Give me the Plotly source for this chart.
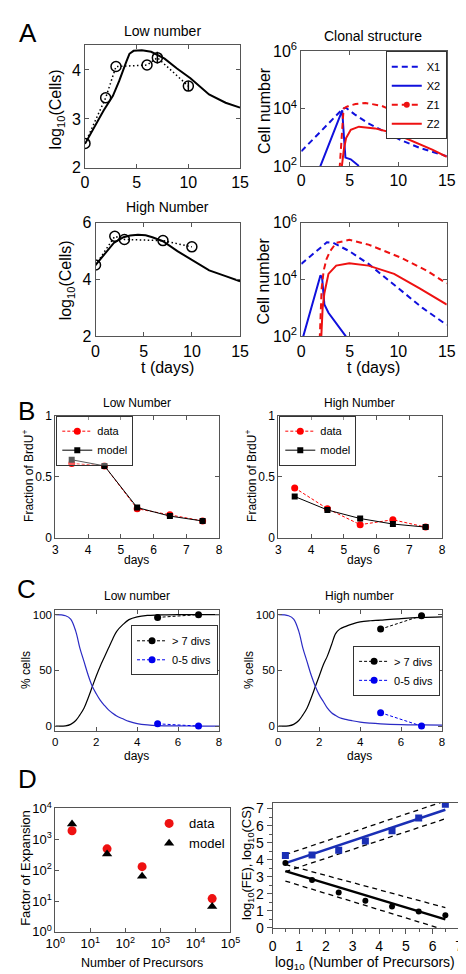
import plotly.graph_objects as go

W, H = 466, 974
FONT = "Liberation Sans, Arial, Helvetica, sans-serif"

# ================= DATA =================
# Panel A - population size (log10 cells)
a_low_days = [0, 2, 3, 6, 7, 10]
a_low_obs = [2.5, 3.43, 4.07, 4.1, 4.25, 3.67]
a_low_err = [0, 0, 0, 0, 0.12, 0.1]
a_low_fit_t = [0, 0.9, 1.8, 2.7, 3.3, 4.0, 4.3, 4.7, 5.5, 6.4, 7.7, 8.9, 10.2, 12.0, 13.6, 15]
a_low_fit = [2.49, 2.83, 3.17, 3.47, 3.77, 4.17, 4.33, 4.39, 4.4, 4.37, 4.23, 4.03, 3.83, 3.5, 3.33, 3.23]

a_high_days = [0, 2, 3, 7, 10]
a_high_obs = [4.51, 5.52, 5.41, 5.37, 5.15]
a_high_fit_t = [0, 0.9, 1.9, 2.9, 3.6, 4.4, 5.2, 5.9, 7.0, 8.5, 10.1, 11.8, 13.5, 15]
a_high_fit = [4.51, 4.88, 5.29, 5.49, 5.55, 5.58, 5.56, 5.49, 5.35, 5.0, 4.66, 4.32, 4.12, 3.94]

# Panel A - clonal structure (log10 cell number)
cl_low_x1_t = [0, 4.3, 4.6, 5.5, 6.9, 8.5, 10.2, 12.2, 15]
cl_low_x1 = [2.51, 4.0, 4.03, 3.8, 3.49, 3.2, 2.91, 2.63, 2.34]
cl_low_x2_t = [1.85, 4.22, 4.4, 4.55, 5.1, 5.94]
cl_low_x2 = [1.89, 3.94, 3.0, 2.29, 2.23, 2.0]
cl_low_z1_t = [3.95, 4.15, 4.36, 4.6, 4.95, 5.6, 6.6, 8.25, 10.2, 12.2, 15]
cl_low_z1 = [1.9, 3.0, 4.0, 4.05, 4.1, 4.16, 4.2, 4.1, 3.83, 3.49, 3.09]
cl_low_z2_t = [4.15, 4.4, 4.62, 5.1, 5.94, 7.6, 9.57, 11.2, 13.5, 15]
cl_low_z2 = [1.9, 2.6, 2.97, 3.26, 3.37, 3.31, 3.14, 2.91, 2.57, 2.32]

cl_high_x1_t = [0, 1.5, 2.64, 3.3, 4.95, 6.93, 10.2, 12.5, 15]
cl_high_x1 = [4.55, 4.98, 5.31, 5.29, 5.0, 4.55, 3.63, 3.0, 2.4]
cl_high_x2_t = [0.16, 1.0, 1.98, 2.15, 2.38, 2.8, 3.3, 4.1, 4.6]
cl_high_x2 = [1.95, 2.97, 4.15, 4.05, 3.12, 2.83, 2.6, 2.26, 2.0]
cl_high_z1_t = [1.9, 2.0, 2.1, 2.31, 2.6, 2.97, 3.6, 4.95, 6.93, 10.2, 12.9, 15]
cl_high_z1 = [1.9, 2.8, 3.7, 4.32, 4.72, 5.0, 5.29, 5.4, 5.23, 4.78, 4.32, 3.86]
cl_high_z2_t = [2.05, 2.1, 2.2, 2.38, 2.8, 3.6, 4.95, 6.93, 9.57, 12.2, 15]
cl_high_z2 = [1.9, 2.5, 3.0, 3.52, 4.2, 4.49, 4.57, 4.49, 4.2, 3.69, 3.12]

# Panel B - fraction BrdU+
b_days = [3.5, 4.5, 5.5, 6.5, 7.5]
b_low_data = [0.61, 0.59, 0.24, 0.19, 0.14]
b_low_model = [0.64, 0.59, 0.25, 0.18, 0.14]
b_high_data = [0.41, 0.24, 0.11, 0.15, 0.09]
b_high_model = [0.34, 0.23, 0.16, 0.115, 0.09]

# Panel C - % cells by division class
c_t = [0, 0.5, 0.75, 1.0, 1.2, 1.4, 1.6, 1.8, 2.0, 2.2, 2.4, 2.6, 2.8, 3.0, 3.3, 3.6, 4.0, 4.5, 5, 6, 7, 8]
c_low_gt7_model = [0, 0.2, 1.5, 5, 10, 16, 25, 35, 45, 54, 62, 70, 78, 85, 91, 95.5, 98, 99.3, 99.7, 100, 100, 100]
c_low_05_model = [100, 99, 96, 85, 70, 58, 46, 36, 29, 23, 18.5, 14.5, 11.5, 9, 6.5, 4.2, 2.2, 1, 0.4, 0.1, 0, 0]
c_high_gt7_model = [0, 0.2, 1.5, 5, 10, 16, 25, 35, 45, 55, 63, 73, 83, 87, 89.5, 91.5, 93.5, 94.5, 95, 96.5, 97.5, 98]
c_high_05_model = [100, 99, 96, 85, 70, 58, 46, 36, 28, 22, 16, 12, 9.5, 7.5, 6, 4.8, 3.5, 2.6, 2, 1.3, 1, 0.8]
c_days = [5, 7]
c_low_gt7 = [97.5, 100]
c_low_05 = [2, 0]
c_high_gt7 = [87, 99]
c_high_05 = [12, 0]

# Panel D - expansion vs precursors
d_prec = [3, 30, 300, 30000]
d_fe_data = [1900, 490, 130, 12]
d_fe_model = [3150, 335, 63, 6.6]

d_logprec = [0.48, 1.48, 2.48, 3.48, 4.48, 5.48, 6.48]
d_log_cs = [4.25, 4.28, 4.55, 5.1, 5.7, 6.44, 7.25]
d_log_fe = [3.8, 2.81, 2.08, 1.6, 1.26, 0.97, 0.75]
d_fit_x = [0.48, 6.48]
d_cs_fit = [3.8, 6.93]
d_cs_hi = [4.3, 7.45]
d_cs_lo = [3.3, 6.4]
d_fe_fit = [3.33, 0.5]
d_fe_hi = [3.72, 1.19]
d_fe_lo = [2.75, -0.12]

# ================= FIGURE =================
BLUE = "#1010dd"
RED = "#ee1111"
fig = go.Figure()


def add(tr, i):
    sfx = '' if i == 1 else str(i)
    tr.update(xaxis='x' + sfx, yaxis='y' + sfx)
    if tr.showlegend is None:
        tr.update(showlegend=False)
    fig.add_trace(tr)


def pw(v):
    return [10 ** a for a in v]

DOT = "1.5px,2.5px"
# A1 low number
add(go.Scatter(x=a_low_days, y=a_low_obs, mode='lines+markers',
               line=dict(color='black', width=1.5, dash=DOT),
               marker=dict(symbol='circle-open', size=10, color='black', line=dict(width=1.5)),
               error_y=dict(type='data', array=a_low_err, visible=True, color='black', thickness=1.5, width=0)), 1)
add(go.Scatter(x=a_low_fit_t, y=a_low_fit, mode='lines', line=dict(color='black', width=2)), 1)

# A3 high number
add(go.Scatter(x=a_high_days, y=a_high_obs, mode='lines+markers',
               line=dict(color='black', width=1.5, dash=DOT),
               marker=dict(symbol='circle-open', size=10, color='black', line=dict(width=1.5))), 3)
add(go.Scatter(x=a_high_fit_t, y=a_high_fit, mode='lines', line=dict(color='black', width=2)), 3)

# A2 / A4 clonal structure
DASH = "6px,4px"
for ax, (x1t, x1, x2t, x2, z1t, z1, z2t, z2) in [
        (2, (cl_low_x1_t, cl_low_x1, cl_low_x2_t, cl_low_x2, cl_low_z1_t, cl_low_z1, cl_low_z2_t, cl_low_z2)),
        (4, (cl_high_x1_t, cl_high_x1, cl_high_x2_t, cl_high_x2, cl_high_z1_t, cl_high_z1, cl_high_z2_t, cl_high_z2))]:
    first = ax == 2
    add(go.Scatter(x=x1t, y=pw(x1), mode='lines', name='X1', showlegend=first, legend='legend',
                   line=dict(color=BLUE, width=2, dash=DASH)), ax)
    add(go.Scatter(x=x2t, y=pw(x2), mode='lines', name='X2', showlegend=first, legend='legend',
                   line=dict(color=BLUE, width=2)), ax)
    add(go.Scatter(x=z1t, y=pw(z1), mode='lines', name='Z1',
                   line=dict(color=RED, width=2, dash=DASH)), ax)
    if first:
        add(go.Scatter(x=[None], y=[None], mode='lines+markers', name='Z1', showlegend=True, legend='legend',
                       line=dict(color=RED, width=2, dash=DASH), marker=dict(color=RED, size=6)), ax)
    add(go.Scatter(x=z2t, y=pw(z2), mode='lines', name='Z2', showlegend=first, legend='legend',
                   line=dict(color=RED, width=2)), ax)

# B
for ax, dat, mod, lg in [(5, b_low_data, b_low_model, 'legend2'), (6, b_high_data, b_high_model, 'legend3')]:
    add(go.Scatter(x=b_days, y=dat, mode='lines+markers', name='data', showlegend=True, legend=lg,
                   line=dict(color='#ff0000', width=1, dash='3px,2px'),
                   marker=dict(color='#ff0000', size=7)), ax)
    add(go.Scatter(x=b_days, y=mod, mode='lines+markers', name='model', showlegend=True, legend=lg,
                   line=dict(color='black', width=1),
                   marker=dict(color='black', size=6, symbol='square')), ax)

# C
for ax, gm, bm, gd, bd, lg in [(7, c_low_gt7_model, c_low_05_model, c_low_gt7, c_low_05, 'legend4'),
                                (8, c_high_gt7_model, c_high_05_model, c_high_gt7, c_high_05, 'legend5')]:
    add(go.Scatter(x=c_t, y=gm, mode='lines', line=dict(color='black', width=1.2, shape='spline')), ax)
    add(go.Scatter(x=c_t, y=bm, mode='lines', line=dict(color='#2b2bc4', width=1.2, shape='spline')), ax)
    add(go.Scatter(x=c_days, y=gd, mode='lines+markers', name='> 7 divs', showlegend=True, legend=lg,
                   line=dict(color='black', width=1, dash='3px,2px'), marker=dict(color='black', size=7)), ax)
    add(go.Scatter(x=c_days, y=bd, mode='lines+markers', name='0-5 divs', showlegend=True, legend=lg,
                   line=dict(color='#0000ee', width=1, dash='3px,2px'), marker=dict(color='#0000ee', size=7)), ax)

# D1
add(go.Scatter(x=d_prec, y=d_fe_data, mode='markers', name='data', showlegend=True, legend='legend6',
               marker=dict(color='#ee1111', size=9)), 9)
add(go.Scatter(x=d_prec, y=d_fe_model, mode='markers', name='model', showlegend=True, legend='legend6',
               marker=dict(color='black', size=9, symbol='triangle-up')), 9)

# D2
DB = "#1a2fb5"
for yv in (d_cs_hi, d_cs_lo, d_fe_hi, d_fe_lo):
    add(go.Scatter(x=d_fit_x, y=yv, mode='lines', line=dict(color='black', width=1.3, dash='5px,4px')), 10)
add(go.Scatter(x=d_fit_x, y=d_cs_fit, mode='lines', line=dict(color=DB, width=2.5)), 10)
add(go.Scatter(x=d_fit_x, y=d_fe_fit, mode='lines', line=dict(color='black', width=2.5)), 10)
add(go.Scatter(x=d_logprec, y=d_log_cs, mode='markers', marker=dict(color=DB, size=7, symbol='square')), 10)
add(go.Scatter(x=d_logprec, y=d_log_fe, mode='markers', marker=dict(color='black', size=6)), 10)

# ================= LAYOUT =================
boxes = {
    1: ((70, 232), (27, 152)),
    2: ((296, 448), (33, 150)),
    3: ((81, 232), (208, 324)),
    4: ((296, 448), (208, 324)),
    5: ((39, 210), (405, 530)),
    6: ((272, 443), (405, 530)),
    7: ((39, 210), (603, 727)),
    8: ((272, 443), (603, 727)),
    9: ((39, 222), (806, 932)),
    10: ((266, 461), (800, 928)),
}
LC = '#555555'
layout = dict(width=W, height=H, margin=dict(l=0, r=0, t=0, b=0),
              plot_bgcolor='white', paper_bgcolor='white', showlegend=True,
              font=dict(family=FONT, color='black'))


def base_axis(size):
    return dict(showline=True, linecolor=LC, linewidth=1, mirror='ticks', ticks='inside', ticklen=4,
                tickcolor=LC, showgrid=False, zeroline=False,
                tickfont=dict(size=size, family=FONT, color='black'))


logtxt = lambda k: '10<sup>%d</sup>' % k
for i, ((x0, x1), (t, b)) in boxes.items():
    sfx = '' if i == 1 else str(i)
    layout['xaxis' + sfx] = dict(domain=[x0 / W, x1 / W], anchor='y' + sfx)
    layout['yaxis' + sfx] = dict(domain=[1 - b / H, 1 - t / H], anchor='x' + sfx)

# A axes
for i in (1, 2, 3, 4):
    sfx = '' if i == 1 else str(i)
    layout['xaxis' + sfx].update(base_axis(16), range=[0, 15], tickvals=[0, 5, 10, 15])
    layout['yaxis' + sfx].update(base_axis(16))
layout['yaxis'].update(range=[2, 4.5], tickvals=[2, 3, 4])
layout['yaxis3'].update(range=[2, 6], tickvals=[2, 4, 6])
for s in ('2', '4'):
    layout['yaxis' + s].update(type='log', range=[2, 6], tickvals=[1e2, 1e4, 1e6],
                               ticktext=[logtxt(2), logtxt(4), logtxt(6)])
# B axes
for s in ('5', '6'):
    layout['xaxis' + s].update(base_axis(12), range=[3, 8], tickvals=[3, 4, 5, 6, 7, 8])
    layout['yaxis' + s].update(base_axis(12), range=[0, 1], tickvals=[0, 0.5, 1], ticktext=['0', '0.5', '1'])
# C axes
for s in ('7', '8'):
    layout['xaxis' + s].update(base_axis(11.5), range=[0, 8], tickvals=[0, 2, 4, 6, 8])
    layout['yaxis' + s].update(base_axis(11.5), range=[-4.5, 104.5], tickvals=[0, 50, 100])
# D1
layout['xaxis9'].update(base_axis(13), type='log', range=[0, 5], tickvals=[1, 10, 100, 1e3, 1e4, 1e5],
                        ticktext=[logtxt(k) for k in range(6)], mirror=True)
layout['yaxis9'].update(base_axis(13), type='log', range=[0, 4], tickvals=[1, 10, 100, 1e3, 1e4],
                        ticktext=[logtxt(k) for k in range(5)], mirror=True)
# D2
layout['xaxis10'].update(base_axis(14), range=[0, 7], dtick=1, ticks='outside', mirror=True, ticklen=5,
                         minor=dict(ticks='outside', dtick=0.5, ticklen=3, tickcolor=LC))
layout['yaxis10'].update(base_axis(14), range=[0, 7.35], dtick=1, ticks='outside', mirror=True, ticklen=5,
                         minor=dict(ticks='outside', dtick=0.5, ticklen=3, tickcolor=LC))


def leg(x, y, xa, ya, size=11, border=True, bg='white'):
    return dict(x=x / W, y=1 - y / H, xanchor=xa, yanchor=ya,
                bgcolor=bg if border else 'rgba(0,0,0,0)',
                bordercolor='#333333' if border else 'rgba(0,0,0,0)', borderwidth=1 if border else 0,
                font=dict(size=size, family=FONT, color='black'), tracegroupgap=0, itemwidth=30)


CLEAR = 'rgba(255,255,255,0.35)'
layout['legend'] = leg(448, 33, 'right', 'top', 11)
layout['legend2'] = leg(40, 405, 'left', 'top', 11, bg=CLEAR)
layout['legend3'] = leg(273, 405, 'left', 'top', 11, bg=CLEAR)
layout['legend4'] = leg(209, 619, 'right', 'top', 11)
layout['legend5'] = leg(441, 640, 'right', 'top', 11)
layout['legend6'] = leg(137, 806, 'left', 'top', 13, border=False)


def ann(text, x, y, size, angle=0):
    return dict(text=text, x=x / W, y=1 - y / H, xref='paper', yref='paper', showarrow=False,
                font=dict(size=size, family=FONT, color='black'), textangle=angle,
                xanchor='center', yanchor='middle')


anns = [
    ann('A', 10, 14, 26), ann('B', 9, 400, 26), ann('C', 9, 582, 26), ann('D', 10, 776, 26),
    ann('Low number', 151, 12, 14), ann('Clonal structure', 371, 17, 14), ann('High Number', 156, 192, 14),
    ann('log<sub>10</sub>(Cells)', 40, 92, 16, -90), ann('log<sub>10</sub>(Cells)', 51, 267, 16, -90),
    ann('Cell number', 257, 93, 16, -90), ann('Cell number', 257, 267, 16, -90),
    ann('t (days)', 156, 356, 16), ann('t (days)', 371, 356, 16),
    ann('Low Number', 124, 392, 12), ann('High Number', 357, 392, 12),
    ann('Fraction of BrdU<sup>+</sup>', 11, 467, 12, -90), ann('Fraction of BrdU<sup>+</sup>', 244, 467, 12, -90),
    ann('days', 124, 552, 12), ann('days', 357, 552, 12),
    ann('Low number', 124, 589, 12), ann('High number', 357, 589, 12),
    ann('% cells', 9, 665, 12, -90), ann('% cells', 242, 665, 12, -90),
    ann('days', 124, 752, 12), ann('days', 357, 752, 12),
    ann('Factor of Expansion', 8, 867, 13, -90), ann('Number of Precursors', 130, 964, 12.5),
    ann('log<sub>10</sub>(FE), log<sub>10</sub>(CS)', 240, 862, 13, -90),
    ann('log<sub>10</sub> (Number of Precursors)', 363, 964, 14),
]
layout['annotations'] = anns
fig.update_layout(layout)
fig.write_html("out.html", config={'displayModeBar': False})
